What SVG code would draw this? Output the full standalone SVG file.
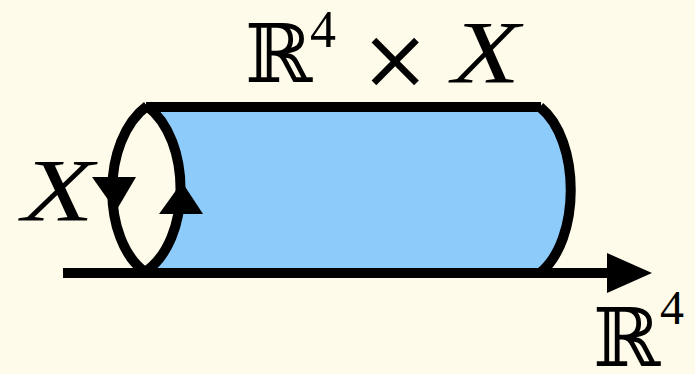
<svg xmlns="http://www.w3.org/2000/svg" width="695" height="374" viewBox="0 0 695 374">
<style>
.ln{fill:none;stroke:#000;stroke-width:10;stroke-linecap:butt}
.bb{font-family:"DejaVu Serif",serif;font-size:81px;fill:#000}
.it{font-family:"Liberation Serif",serif;font-style:italic;font-size:88px;fill:#000}
.rm{font-family:"Liberation Serif",serif;fill:#000}
</style>
<rect width="695" height="374" fill="#fffbea"/>
<g id="cylinder">
<path d="M147,107 L540,107 C581,140 581,240 540,273 L145,273 C191,240 191,140 147,107 Z" fill="#8ccbfa"/>
<path class="ln" d="M146,107 L541,107"/>
<path class="ln" d="M540,107 C581,140 581,240 540,273"/>
<path class="ln" d="M147,106 C101,140 101,240 145,272"/>
<path class="ln" d="M147,106 C192,140 192,240 145,272"/>
</g>
<g id="connectors">
<path class="ln" d="M63,273 L610,273"/>
<polygon points="607,253 652,273 607,293" fill="#000"/>
<polygon points="92,177 136,177 116,211" fill="#000"/>
<polygon points="159,214 203,214 182,182" fill="#000"/>
</g>
<g id="label-top">
<text class="bb" x="245" y="82">ℝ</text>
<text class="rm" x="310" y="47" font-size="52">4</text>
<text x="360" y="88" font-family="DejaVu Serif, serif" font-size="84" font-weight="200" fill="#000">×</text>
<text class="it" x="452" y="82" textLength="68" lengthAdjust="spacingAndGlyphs">X</text>
</g>
<g id="label-left">
<text class="it" x="22" y="220" textLength="72" lengthAdjust="spacingAndGlyphs">X</text>
</g>
<g id="label-bottom">
<text class="bb" x="593" y="366">ℝ</text>
<text class="rm" x="660" y="324" font-size="48">4</text>
</g>
</svg>
